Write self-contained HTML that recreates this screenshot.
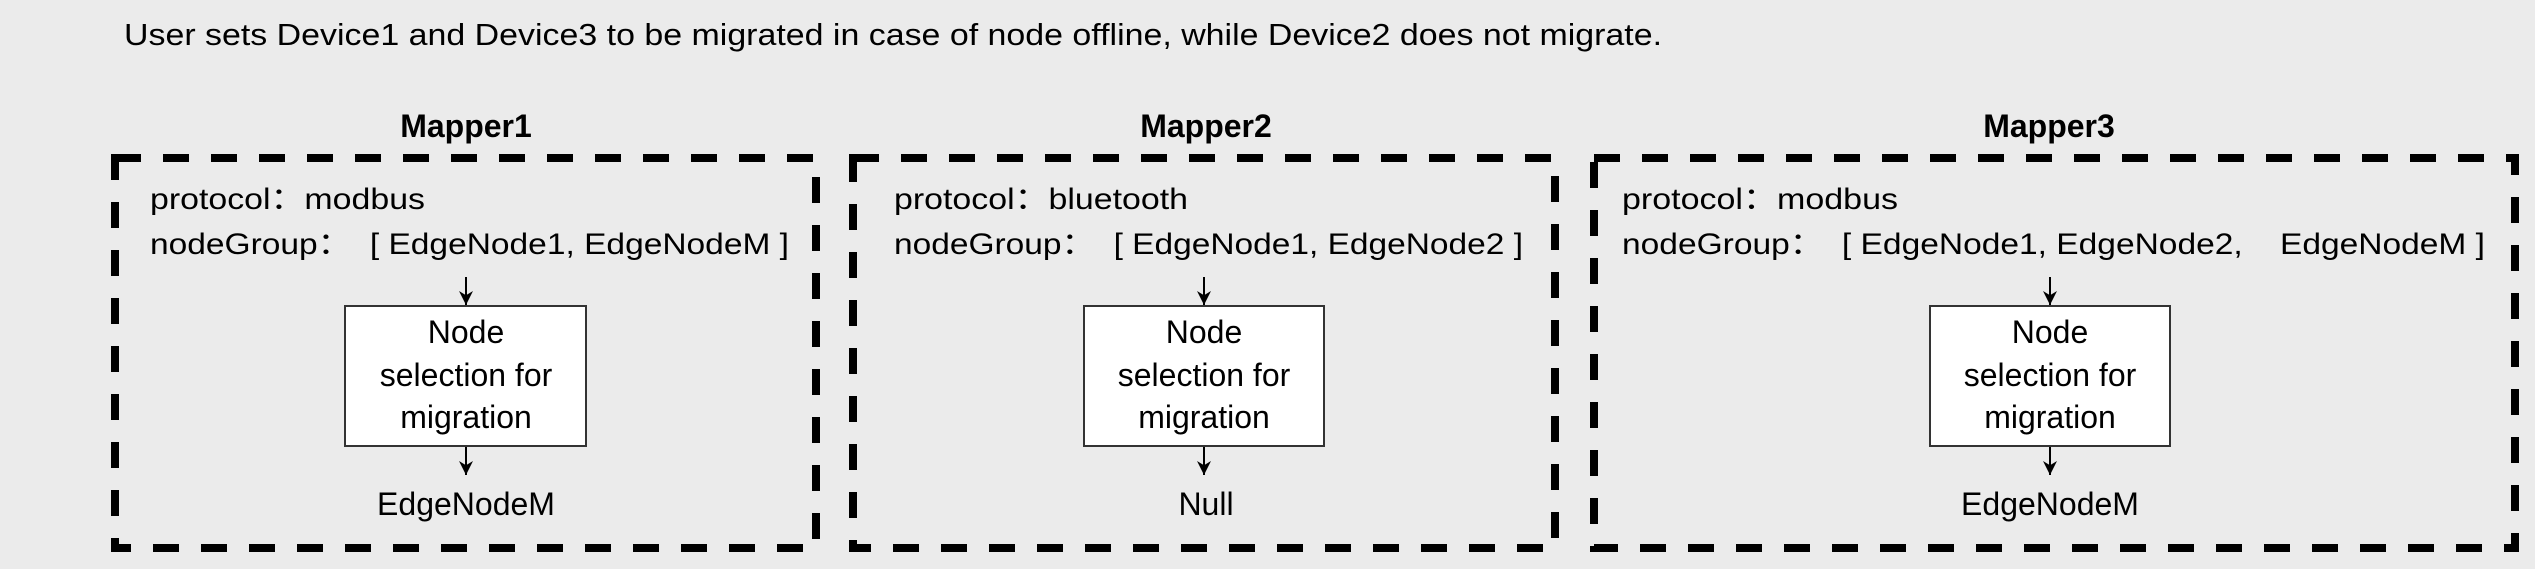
<!DOCTYPE html>
<html><head><meta charset="utf-8"><style>
html,body{margin:0;padding:0;background:#ebebeb;}
svg{display:block;font-family:"Liberation Sans","Noto Sans CJK SC",sans-serif;}
text{white-space:pre;}
</style></head><body>
<svg width="2535" height="569" viewBox="0 0 2535 569" xmlns="http://www.w3.org/2000/svg">
<defs><marker id="a" viewBox="0 0 10 10" refX="10" refY="5" markerWidth="18" markerHeight="14" orient="auto" markerUnits="userSpaceOnUse"><path d="M0,0 L10,5 L0,10 L3,5 z" fill="#000"/></marker></defs>
<rect width="2535" height="569" fill="#ebebeb"/>
<text x="124" y="45" font-size="31" textLength="1538" lengthAdjust="spacingAndGlyphs">User sets Device1 and Device3 to be migrated in case of node offline, while Device2 does not migrate.</text>
<g fill="none" stroke="#000" stroke-width="8" stroke-dasharray="26 22">
<rect x="115" y="158" width="701" height="390"/>
<rect x="853" y="158" width="702" height="390"/>
<rect x="1594" y="158" width="921" height="390"/>
</g>
<g font-size="32" font-weight="bold" text-anchor="middle">
<text x="466" y="137">Mapper1</text>
<text x="1206" y="137">Mapper2</text>
<text x="2049" y="137">Mapper3</text>
</g>
<g font-size="30">
<text x="150" y="209" textLength="275" lengthAdjust="spacingAndGlyphs">protocol：modbus</text>
<text x="150" y="254" textLength="639" lengthAdjust="spacingAndGlyphs">nodeGroup：  [ EdgeNode1, EdgeNodeM ]</text>
<text x="894" y="209" textLength="294" lengthAdjust="spacingAndGlyphs">protocol：bluetooth</text>
<text x="894" y="254" textLength="629" lengthAdjust="spacingAndGlyphs">nodeGroup：  [ EdgeNode1, EdgeNode2 ]</text>
<text x="1622" y="209" textLength="276" lengthAdjust="spacingAndGlyphs">protocol：modbus</text>
<text x="1622" y="254" textLength="863" lengthAdjust="spacingAndGlyphs">nodeGroup：  [ EdgeNode1, EdgeNode2,    EdgeNodeM ]</text>
</g>
<g fill="#fff" stroke="#333" stroke-width="2">
<rect x="345" y="306" width="241" height="140"/>
<rect x="1084" y="306" width="240" height="140"/>
<rect x="1930" y="306" width="240" height="140"/>
</g>
<g stroke="#000" stroke-width="2" marker-end="url(#a)">
<line x1="466" y1="277" x2="466" y2="305"/>
<line x1="466" y1="447" x2="466" y2="475"/>
<line x1="1204" y1="277" x2="1204" y2="305"/>
<line x1="1204" y1="447" x2="1204" y2="475"/>
<line x1="2050" y1="277" x2="2050" y2="305"/>
<line x1="2050" y1="447" x2="2050" y2="475"/>
</g>
<g font-size="32" text-anchor="middle">
<text x="466" y="343">Node</text><text x="466" y="386">selection for</text><text x="466" y="428">migration</text>
<text x="1204" y="343">Node</text><text x="1204" y="386">selection for</text><text x="1204" y="428">migration</text>
<text x="2050" y="343">Node</text><text x="2050" y="386">selection for</text><text x="2050" y="428">migration</text>
<text x="466" y="515">EdgeNodeM</text>
<text x="1206" y="515">Null</text>
<text x="2050" y="515">EdgeNodeM</text>
</g>
</svg>
</body></html>
